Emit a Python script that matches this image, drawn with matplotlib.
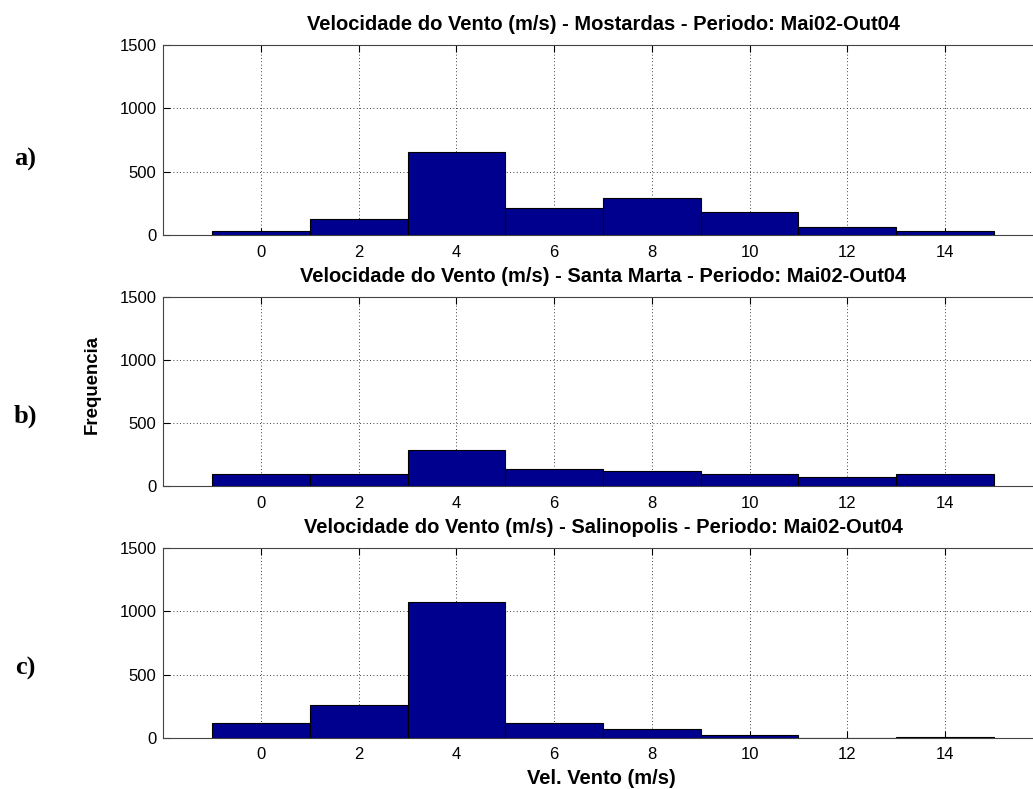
import matplotlib
matplotlib.use("Agg")
import matplotlib.pyplot as plt
import numpy as np

plt.rcParams['font.family'] = ['Liberation Sans', 'DejaVu Sans']

bin_centers = [0, 2, 4, 6, 8, 10, 12, 14]
mostardas = [30, 127, 659, 212, 291, 185, 66, 29]
santa_marta = [98, 95, 286, 135, 119, 98, 74, 98]
salinopolis = [114, 256, 1077, 114, 69, 24, 0, 5]

titles = [
    "Velocidade do Vento (m/s) - Mostardas - Periodo: Mai02-Out04",
    "Velocidade do Vento (m/s) - Santa Marta - Periodo: Mai02-Out04",
    "Velocidade do Vento (m/s) - Salinopolis - Periodo: Mai02-Out04",
]
panel_labels = ["a)", "b)", "c)"]
series = [mostardas, santa_marta, salinopolis]
xticks = [0, 2, 4, 6, 8, 10, 12, 14]
yticks = [0, 500, 1000, 1500]

W, H = 1033, 789
fig = plt.figure(figsize=(W / 100, H / 100), dpi=100)

left_px = 163.3
right_px = 1042.6
tops = [45, 297, 548.3]
bottoms = [235, 486.3, 737.7]
label_y = [159, 416, 668]

for i in range(3):
    ax = fig.add_axes([left_px / W, 1 - bottoms[i] / H,
                       (right_px - left_px) / W, (bottoms[i] - tops[i]) / H])
    ax.bar(bin_centers, series[i], width=2, color='#00008F',
           edgecolor='black', linewidth=0.8, zorder=3)
    ax.set_xlim(-2, 16)
    ax.set_ylim(0, 1500)
    ax.set_xticks(xticks)
    ax.set_yticks(yticks)
    ax.grid(True, linestyle=(0, (1, 3)), color='black', linewidth=0.6, zorder=0)
    ax.tick_params(direction='in', top=True, right=True, labelsize=12,
                   length=5, width=0.8)
    ax.tick_params(axis='x', pad=7)
    ax.tick_params(axis='y', pad=5)
    for s in ax.spines.values():
        s.set_color('#444444')
        s.set_linewidth(0.8)
    ax.set_title(titles[i], fontsize=14.5, fontweight='bold', pad=11)
    fig.text(25 / W, 1 - label_y[i] / H, panel_labels[i],
             family=['Liberation Serif', 'DejaVu Serif'], fontsize=19,
             fontweight='bold', ha='center', va='center')
    if i == 2:
        ax.set_xlabel("Vel. Vento (m/s)", fontsize=14.5, fontweight='bold')
        ax.xaxis.set_label_coords((601 - left_px) / (right_px - left_px),
                                  -(778 - bottoms[i]) / (bottoms[i] - tops[i]))
        ax.xaxis.label.set_va('center')

fig.text(92 / W, 1 - 385 / H, "Frequencia", fontsize=13.4, fontweight='bold',
         rotation=90, ha='center', va='center')

fig.savefig("out.png", dpi=100)
